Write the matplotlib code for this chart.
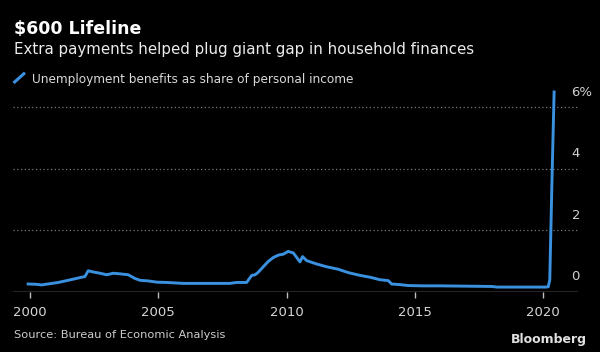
"""Unemployment benefits as share of personal income, Bloomberg-style dark chart."""
import matplotlib
matplotlib.use("Agg")
import matplotlib.pyplot as plt
from matplotlib.lines import Line2D

# decimal year, percent of personal income
years = [1999.93, 2000.26, 2000.45, 2000.78, 2001.10, 2001.43, 2001.75, 2002.01,
         2002.14, 2002.27, 2002.47, 2002.73, 2002.99, 2003.25, 2003.51, 2003.83,
         2004.09, 2004.29, 2004.61, 2004.94, 2005.33, 2005.97, 2006.88, 2007.79,
         2008.05, 2008.44, 2008.64, 2008.77, 2008.89, 2009.09, 2009.28, 2009.48,
         2009.68, 2009.87, 2010.06, 2010.26, 2010.52, 2010.62, 2010.78, 2011.17,
         2011.56, 2012.01, 2012.40, 2012.86, 2013.25, 2013.63, 2013.96, 2014.09,
         2014.41, 2014.74, 2015.32, 2015.97, 2017.0, 2018.0, 2018.2, 2019.0,
         2020.10, 2020.19, 2020.25, 2020.33, 2020.42]
share = [0.25, 0.24, 0.22, 0.26, 0.30, 0.36, 0.42, 0.47,
         0.49, 0.68, 0.64, 0.60, 0.55, 0.60, 0.58, 0.55,
         0.43, 0.37, 0.35, 0.31, 0.30, 0.27, 0.27, 0.27,
         0.30, 0.30, 0.53, 0.55, 0.63, 0.81, 0.98, 1.11,
         1.19, 1.22, 1.31, 1.26, 0.97, 1.14, 1.01, 0.90,
         0.81, 0.73, 0.62, 0.53, 0.47, 0.39, 0.36, 0.25,
         0.23, 0.20, 0.19, 0.19, 0.18, 0.17, 0.15, 0.15,
         0.15, 0.16, 0.38, 3.40, 6.49]

xticks = [2000, 2005, 2010, 2015, 2020]
yticks = [0, 2, 4, 6]
ylabels = ["0", "2", "4", "6%"]

BLUE = "#3a91e0"
W, H = 600, 352

fig = plt.figure(figsize=(6, 3.52), dpi=100, facecolor="black")
ax = fig.add_axes([13 / W, (H - 291.7) / H, 565 / W, (291.7 - 88.6) / H])
ax.set_facecolor("black")

ax.plot(years, share, color=BLUE, lw=2.1, solid_joinstyle="round", zorder=3)

ax.set_xlim(1999.34, 2021.35)
ax.set_ylim(0, 6.6)
for s in ax.spines.values():
    s.set_visible(False)
ax.axhline(0, color="#bdbdbd", lw=1.0, zorder=2)
for v in yticks[1:]:
    ax.axhline(v, color="#777777", lw=0.9, ls=(0, (1, 2)), zorder=1)
for v, lab in zip(yticks, ylabels):
    ax.text(0.9885, v + 0.27, lab, transform=ax.get_yaxis_transform(),
            color="#d0d0d0", fontsize=9.5, ha="left", va="bottom")

ax.set_yticks([])
ax.set_xticks(xticks)
ax.set_xticklabels([str(x) for x in xticks])
ax.tick_params(axis="x", colors="#bdbdbd", length=4, width=1, pad=6,
               labelsize=9.5, labelcolor="#d6d6d6")

fig.text(14 / W, 1 - 34.3 / H, "$600 Lifeline", color="white",
         fontsize=12.5, fontweight="bold", va="baseline")
fig.text(14 / W, 1 - 54 / H, "Extra payments helped plug giant gap in household finances",
         color="#ececec", fontsize=10.8, va="baseline")
fig.add_artist(Line2D([13.5 / W, 25 / W], [1 - 83 / H, 1 - 72.7 / H],
                      color=BLUE, lw=2.2, solid_capstyle="butt"))
fig.text(32 / W, 1 - 82.7 / H, "Unemployment benefits as share of personal income",
         color="#d8d8d8", fontsize=8.75, va="baseline")
fig.text(13.5 / W, 1 - 338.3 / H, "Source: Bureau of Economic Analysis",
         color="#cccccc", fontsize=8.2, va="baseline")
fig.text(586.7 / W, 1 - 343.3 / H, "Bloomberg", color="#e0e0e0",
         fontsize=9, fontweight="bold", ha="right", va="baseline")

fig.savefig("out.png", dpi=100, facecolor="black")
